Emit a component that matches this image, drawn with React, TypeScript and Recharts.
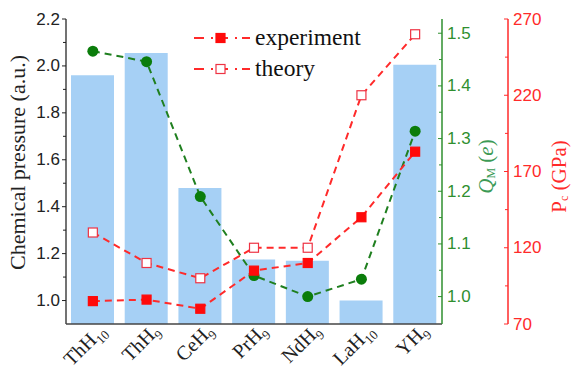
import { Bar, ComposedChart, Legend, Line, XAxis, YAxis } from 'recharts';

const compounds = ['ThH10', 'ThH9', 'CeH9', 'PrH9', 'NdH9', 'LaH10', 'YH9'];
const chemicalPressure = [1.96, 2.055, 1.48, 1.175, 1.17, 1.0, 2.005];
const chargeQm = [1.466, 1.446, 1.19, 1.04, 1.0, 1.033, 1.314];
const pcExperiment = [85, 86, 80, 105, 110, 140, 183];
const pcTheory = [130, 110, 100, 120, 120, 220, 260];

const pressureTicks = [1.0, 1.1, 1.2, 1.3, 1.4, 1.5, 1.6, 1.7, 1.8, 1.9, 2.0, 2.1, 2.2];
const qmTicks = [1.0, 1.05, 1.1, 1.15, 1.2, 1.25, 1.3, 1.35, 1.4, 1.45, 1.5];
const pcTicks = [70, 95, 120, 145, 170, 195, 220, 245, 270];

const SERIF = "'Liberation Serif', 'Times New Roman', Times, serif";
const SANS = "'Liberation Sans', Arial, sans-serif";
const GREEN = '#2f8f2f';
const RED = '#ff2a2a';

const data = compounds.map((name, i) => ({
  name,
  pressure: chemicalPressure[i],
  qm: chargeQm[i],
  exp: pcExperiment[i],
  theory: pcTheory[i],
}));

function makeTick(color: string, side: 'left' | 'right', isMajor: (v: number) => boolean, fmt: (v: number) => string) {
  return (props: any) => {
    const { x, y, payload } = props;
    const v = payload.value as number;
    const major = isMajor(v);
    return (
      <g>
        <line x1={x - (major ? 4 : 3)} x2={x} y1={y} y2={y} stroke={color} strokeWidth={1} />
        {major && (
          <text
            x={side === 'left' ? x - 6 : x + 5}
            y={y}
            textAnchor={side === 'left' ? 'end' : 'start'}
            dominantBaseline="central"
            fill={color}
            fontSize={17}
            fontFamily={SANS}
          >
            {fmt(v)}
          </text>
        )}
      </g>
    );
  };
}

function CompoundTick(props: any) {
  const { x, y, payload } = props;
  const m = /^(.*?)(\d+)$/.exec(payload.value) || ['', payload.value, ''];
  return (
    <g transform={`translate(${x + 14},${y + 8})`}>
      <text transform="rotate(-45)" textAnchor="end" fontFamily={SERIF} fontSize={20} fill="#222">
        {m[1]}
        <tspan fontSize={13} dy={5}>{m[2]}</tspan>
      </text>
    </g>
  );
}

const squareDot = (filled: boolean) => (props: any) => {
  const { cx, cy, index } = props;
  return (
    <rect
      key={index}
      x={cx - 4.5}
      y={cy - 4.5}
      width={9}
      height={9}
      fill={filled ? '#ff0a0a' : '#ffffff'}
      stroke={filled ? '#ff0a0a' : '#ee3344'}
      strokeWidth={1.2}
    />
  );
};

const circleDot = (props: any) => {
  const { cx, cy, index } = props;
  return <circle key={index} cx={cx} cy={cy} r={5.5} fill="#0b7d0b" />;
};

function LegendBox() {
  const rows = [
    { label: 'experiment', filled: true },
    { label: 'theory', filled: false },
  ];
  return (
    <div style={{ fontFamily: SERIF, fontSize: 23.5, color: '#111' }}>
      {rows.map((r) => (
        <div key={r.label} style={{ display: 'flex', alignItems: 'center', height: 31 }}>
          <svg width={60} height={14}>
            <line x1={2} x2={58} y1={7} y2={7} stroke={RED} strokeWidth={2} strokeDasharray="10 7 2 5" />
            <rect
              x={24}
              y={2.5}
              width={9}
              height={9}
              fill={r.filled ? '#ff0a0a' : '#ffffff'}
              stroke={r.filled ? '#ff0a0a' : '#ee3344'}
              strokeWidth={1.2}
            />
          </svg>
          <span style={{ marginLeft: 3, lineHeight: 1 }}>{r.label}</span>
        </div>
      ))}
    </div>
  );
}

export default function App() {
  return (
    <div style={{ position: 'absolute', left: 0, top: 0 }}>
      <ComposedChart width={573} height={372} data={data} margin={{ top: 19, right: 0, bottom: 0, left: 0 }}>
        <XAxis
          dataKey="name"
          height={48}
          interval={0}
          tickSize={0}
          tickMargin={0}
          tickLine={false}
          axisLine={{ stroke: '#444', strokeWidth: 1.5 }}
          tick={CompoundTick}
        />
        <XAxis xAxisId="top" orientation="top" dataKey="name" height={0} tick={false} tickLine={false} axisLine={{ stroke: '#555', strokeWidth: 1.5 }} />
        <YAxis
          yAxisId="axisPressure"
          orientation="left"
          width={66}
          type="number"
          domain={[0.9, 2.2]}
          ticks={pressureTicks}
          interval={0}
          tickSize={0}
          tickMargin={0}
          tickLine={false}
          axisLine={{ stroke: '#444', strokeWidth: 1.5 }}
          tick={makeTick('#222', 'left', (v) => Math.round(v * 10) % 2 === 0, (v) => v.toFixed(1))}
          label={(p: any) => {
            const vb = p.viewBox;
            const cx = vb.x + 17;
            const cy = vb.y + vb.height / 2 - 9;
            return (
              <text x={cx} y={cy} transform={`rotate(-90 ${cx} ${cy})`} textAnchor="middle" dominantBaseline="central" fontFamily={SERIF} fontSize={22} fill="#222">
                Chemical pressure (a.u.)
              </text>
            );
          }}
        />
        <YAxis
          yAxisId="axisGreen"
          orientation="right"
          width={66}
          type="number"
          domain={[0.948, 1.527]}
          ticks={qmTicks}
          interval={0}
          tickSize={0}
          tickMargin={0}
          tickLine={false}
          axisLine={{ stroke: GREEN, strokeWidth: 1.5 }}
          tick={makeTick(GREEN, 'right', (v) => Math.round(v * 100) % 10 === 0, (v) => v.toFixed(1))}
          label={(p: any) => {
            const vb = p.viewBox;
            const cx = vb.x + 44;
            const cy = vb.y + vb.height / 2 - 5;
            return (
              <text x={cx} y={cy} transform={`rotate(-90 ${cx} ${cy})`} textAnchor="middle" dominantBaseline="central" fontFamily={SERIF} fontSize={21} fill="#3c9a55">
                <tspan fontStyle="italic">Q</tspan>
                <tspan fontSize={12} dy={5}>M</tspan>
                <tspan dy={-5}> (</tspan>
                <tspan fontStyle="italic">e</tspan>
                <tspan>)</tspan>
              </text>
            );
          }}
        />
        <YAxis
          yAxisId="axisRed"
          orientation="right"
          width={65}
          type="number"
          domain={[70, 270]}
          ticks={pcTicks}
          interval={0}
          tickSize={0}
          tickMargin={0}
          tickLine={false}
          axisLine={{ stroke: RED, strokeWidth: 1.5 }}
          tick={makeTick(RED, 'right', (v) => (v - 70) % 50 === 0, (v) => String(v))}
          label={(p: any) => {
            const vb = p.viewBox;
            const cx = vb.x + 51;
            const cy = vb.y + vb.height / 2 + 5;
            return (
              <text x={cx} y={cy} transform={`rotate(-90 ${cx} ${cy})`} textAnchor="middle" dominantBaseline="central" fontFamily={SERIF} fontSize={21} fill={RED}>
                <tspan>P</tspan>
                <tspan fontSize={12} dy={5}>c</tspan>
                <tspan dy={-5}> (GPa)</tspan>
              </text>
            );
          }}
        />
        <Legend
          layout="vertical"
          align="center"
          verticalAlign="middle"
          content={() => <LegendBox />}
          wrapperStyle={{ left: 192, top: 22, width: 'auto', height: 'auto' }}
        />
        <Bar yAxisId="axisPressure" dataKey="pressure" fill="#a6d0f5" barSize={43} isAnimationActive={false} legendType="none" />
        <Line
          yAxisId="axisGreen"
          dataKey="qm"
          type="linear"
          stroke="#1f7f1f"
          strokeWidth={2}
          strokeDasharray="7 5"
          dot={circleDot}
          activeDot={false}
          isAnimationActive={false}
        />
        <Line
          yAxisId="axisRed"
          dataKey="theory"
          type="linear"
          stroke={RED}
          strokeWidth={2}
          strokeDasharray="7 5"
          dot={squareDot(false)}
          activeDot={false}
          isAnimationActive={false}
        />
        <Line
          yAxisId="axisRed"
          dataKey="exp"
          type="linear"
          stroke={RED}
          strokeWidth={2}
          strokeDasharray="7 5"
          dot={squareDot(true)}
          activeDot={false}
          isAnimationActive={false}
        />
      </ComposedChart>
    </div>
  );
}
